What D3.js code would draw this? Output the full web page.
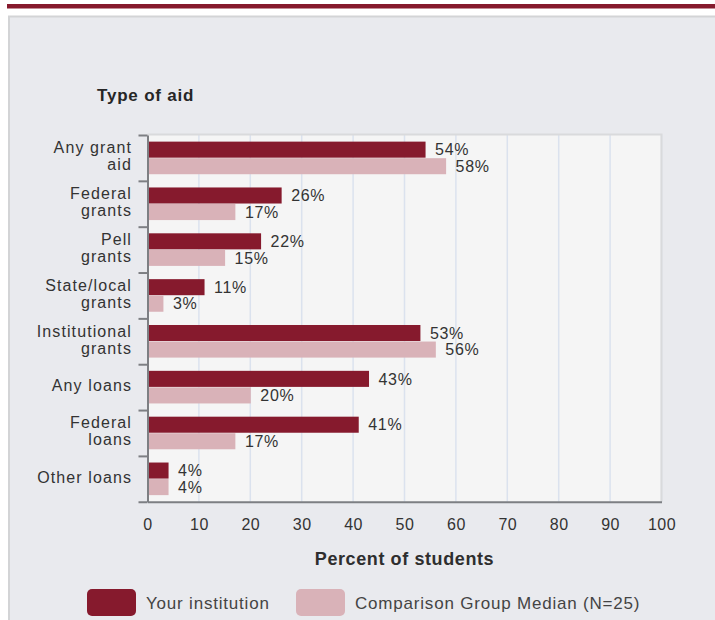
<!DOCTYPE html>
<html>
<head>
<meta charset="utf-8">
<script src="https://cdn.jsdelivr.net/npm/d3@7"></script>
<style>
  html, body { margin: 0; padding: 0; background: #ffffff; }
  svg { display: block; }
  text { font-family: "Liberation Sans", Arial, Helvetica, sans-serif; }
</style>
</head>
<body>
<svg id="chart" width="715" height="620"></svg>
<script>
// ---- data ----
const categories = ["Any grant\naid", "Federal\ngrants", "Pell\ngrants", "State/local\ngrants",
                    "Institutional\ngrants", "Any loans", "Federal\nloans", "Other loans"];
const institution = [54, 26, 22, 11, 53, 43, 41, 4];
const comparison  = [58, 17, 15, 3, 56, 20, 17, 4];
const seriesNames = ["Your institution", "Comparison Group Median (N=25)"];
const xTicks = [0, 10, 20, 30, 40, 50, 60, 70, 80, 90, 100];
const yTitle = "Type of aid";
const xTitle = "Percent of students";

const colors = ["#861a2d", "#d9b2b8"];

const svg = d3.select("#chart");

// page chrome
svg.append("rect").attr("x", 7).attr("y", 4).attr("width", 708).attr("height", 4.5).attr("fill", "#861a2d");
svg.append("rect").attr("x", 9).attr("y", 16.5).attr("width", 720).attr("height", 620)
   .attr("fill", "#e9eaee").attr("stroke", "#d3d4d6").attr("stroke-width", 2);

const plot = { left: 147.5, right: 661.5, top: 134.5, bottom: 501.75 };

const x = d3.scaleLinear().domain([0, 100]).range([plot.left, plot.right]);
const y0 = d3.scaleBand().domain(d3.range(categories.length)).range([plot.top + 0.5, plot.bottom]).padding(0);
const y1 = d3.scaleBand().domain([0, 1]).range([0, y0.bandwidth()]).paddingInner(0.03).paddingOuter(0.4);

// plot background
svg.append("rect").attr("x", plot.left).attr("y", plot.top).attr("width", plot.right - plot.left)
   .attr("height", plot.bottom - plot.top).attr("fill", "#f5f5f5");

// grid lines
svg.append("g").selectAll("line").data(xTicks.filter(d => d > 0)).join("line")
   .attr("x1", d => x(d)).attr("x2", d => x(d))
   .attr("y1", plot.top).attr("y2", plot.bottom)
   .attr("stroke", "#dbe2ee").attr("stroke-width", 1.5);

// top/right border of plot
svg.append("path")
   .attr("d", `M${plot.left},${plot.top}H${plot.right}V${plot.bottom}`)
   .attr("fill", "none").attr("stroke", "#d9dadc").attr("stroke-width", 2);

// bars
const rows = categories.map((c, i) => ({ i, vals: [institution[i], comparison[i]] }));
const groups = svg.append("g").selectAll("g").data(rows).join("g")
   .attr("transform", d => `translate(0,${y0(d.i)})`);

groups.selectAll("rect").data(d => d.vals.map((v, s) => ({ v, s }))).join("rect")
   .attr("x", x(0) + 0.5)
   .attr("y", d => y1(d.s))
   .attr("width", d => x(d.v) - x(0))
   .attr("height", y1.bandwidth())
   .attr("fill", d => colors[d.s]);

groups.selectAll("text").data(d => d.vals.map((v, s) => ({ v, s }))).join("text")
   .attr("x", d => x(d.v) + 10)
   .attr("y", d => y1(d.s) + y1.bandwidth() / 2)
   .attr("dy", "0.36em")
   .attr("font-size", 16)
   .attr("letter-spacing", 0.7)
   .attr("fill", "#333")
   .text(d => d.v + "%");

// y axis (ticks at band boundaries)
const yEdge = d3.scaleLinear().domain([0, categories.length]).range([plot.top + 0.5, plot.bottom]);
const yAxis = svg.append("g").attr("transform", `translate(${plot.left},0)`)
   .call(d3.axisLeft(yEdge).tickValues(d3.range(categories.length + 1)).tickSize(9).tickSizeOuter(0).tickFormat(""));
yAxis.select(".domain").attr("stroke", "#7d7f83").attr("stroke-width", 2);
yAxis.selectAll(".tick line").attr("stroke", "#7d7f83").attr("stroke-width", 2);

// x axis
const xAxis = svg.append("g").attr("transform", `translate(0,${plot.bottom})`)
   .call(d3.axisBottom(x).tickValues(xTicks).tickSize(0).tickPadding(17));
xAxis.select(".domain").attr("stroke", "#7d7f83").attr("stroke-width", 2);
xAxis.selectAll(".tick text")
   .attr("font-size", 16).attr("letter-spacing", 0.5).attr("fill", "#333")
   .attr("font-family", "'Liberation Sans', Arial, sans-serif");

// category labels
const catLabels = svg.append("g").selectAll("text").data(categories.map((c, i) => ({ i, lines: c.split("\n") }))).join("text")
   .attr("text-anchor", "end")
   .attr("font-size", 16)
   .attr("letter-spacing", 1.1)
   .attr("fill", "#333");
catLabels.each(function(d) {
  const cy = y0(d.i) + y0.bandwidth() / 2;
  const t = d3.select(this);
  if (d.lines.length === 1) {
    t.append("tspan").attr("x", 132).attr("y", cy + 4).text(d.lines[0]);
  } else {
    t.append("tspan").attr("x", 132).attr("y", cy - 4.5).text(d.lines[0]);
    t.append("tspan").attr("x", 132).attr("y", cy + 12.5).text(d.lines[1]);
  }
});

// titles
svg.append("text").attr("x", 97).attr("y", 101)
   .attr("font-size", 17).attr("font-weight", "bold").attr("letter-spacing", 0.8).attr("fill", "#262626")
   .text(yTitle);
svg.append("text").attr("x", (plot.left + plot.right) / 2).attr("y", 565).attr("text-anchor", "middle")
   .attr("font-size", 18).attr("font-weight", "bold").attr("letter-spacing", 0.6).attr("fill", "#2e2e2e")
   .text(xTitle);

// legend
const legendX = [87, 296];
const legend = svg.append("g").selectAll("g").data(seriesNames).join("g")
   .attr("transform", (d, i) => `translate(${legendX[i]},589)`);
legend.append("rect").attr("width", 49).attr("height", 27).attr("rx", 5).attr("ry", 5)
   .attr("fill", (d, i) => colors[i]);
legend.append("text").attr("x", 59).attr("y", 20)
   .attr("font-size", 17).attr("letter-spacing", 0.8).attr("fill", "#444")
   .text(d => d);
</script>
</body>
</html>
